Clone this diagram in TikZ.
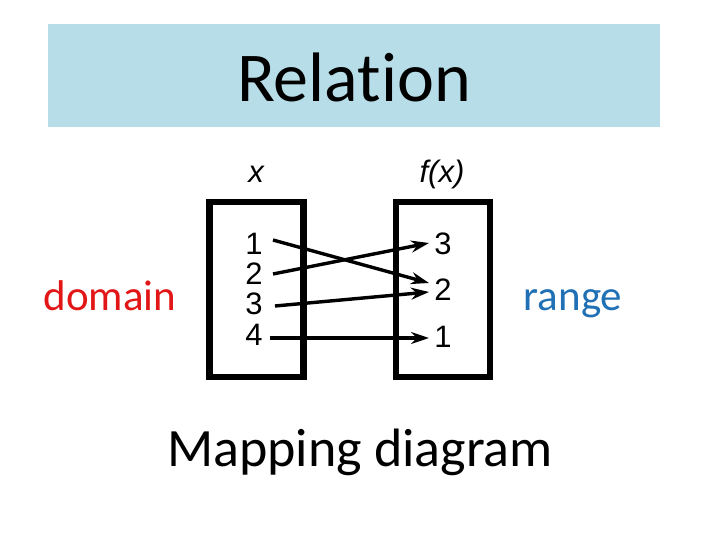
\documentclass[tikz,border=0pt]{standalone}
\usepackage{fontspec}
\setmainfont[Ligatures={NoCommon}]{Carlito}
\newfontfamily\helv{Liberation Sans}
\usetikzlibrary{arrows.meta}
\definecolor{titlebg}{RGB}{183,221,232}
\definecolor{domred}{RGB}{226,22,22}
\definecolor{rngblue}{RGB}{31,112,181}
\tikzset{
  setbox/.style={draw=black, line width=6.5pt},
  num/.style={font=\helv\fontsize{31}{31}\selectfont, inner sep=0pt},
  maparrow/.style={line width=3.4pt, -{Stealth[length=18pt,width=12pt]}},
  axislabel/.style={font=\helv\itshape\fontsize{31}{31}\selectfont, inner sep=0pt},
}
\begin{document}
\begin{tikzpicture}[x=1pt,y=-1pt]
\useasboundingbox (0,0) rectangle (720,540);
\fill[white] (0,0) rectangle (720,540);
% title
\node[fill=titlebg, minimum width=612pt, minimum height=103pt, inner sep=0pt, anchor=north west] (titlebar) at (48,24) {};
\node[font=\fontsize{70}{70}\selectfont, inner sep=0pt] (title) at (354,77) {Relation};
% side labels
\node[font=\fontsize{43}{43}\selectfont, text=domred, inner sep=0pt] (domain) at (110,296) {domain};
\node[font=\fontsize{43}{43}\selectfont, text=rngblue, inner sep=0pt] (range) at (573,304) {range};
% bottom label
\node[font=\fontsize{54}{54}\selectfont, inner sep=0pt] (caption) at (360,452) {Mapping diagram};
% boxes
\draw[setbox] (209.5,202) rectangle (303.5,377);
\draw[setbox] (396,202) rectangle (490,377);
\node[axislabel] (xl) at (256,174) {x};
\node[axislabel] (fxl) at (442,174) {f(x)};
% numbers
\node[num] (l1) at (254,244) {1};
\node[num] (l2) at (254,274) {2};
\node[num] (l3) at (254,304) {3};
\node[num] (l4) at (254,335) {4};
\node[num] (r3) at (443,244) {3};
\node[num] (r2) at (443,290) {2};
\node[num] (r1) at (443,337) {1};
% arrow anchor points
\coordinate (s1) at (273,240);
\coordinate (s2) at (273,274);
\coordinate (s3) at (275,306);
\coordinate (s4) at (270,338);
\coordinate (t2a) at (429,283);
\coordinate (t3) at (429,243);
\coordinate (t2b) at (429,292);
\coordinate (t1) at (429,338);
\draw[maparrow] (s1) -- (t2a);
\draw[maparrow] (s2) -- (t3);
\draw[maparrow] (s3) -- (t2b);
\draw[maparrow] (s4) -- (t1);
\end{tikzpicture}
\end{document}
